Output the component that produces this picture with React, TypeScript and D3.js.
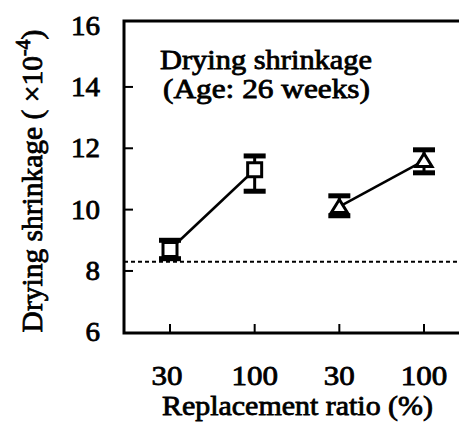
import { useEffect, useRef } from "react";
import * as d3 from "d3";

// x categories (replacement ratio %) for the two groups
const categories = ["30a", "100a", "30b", "100b"];
const tickLabels = ["30", "100", "30", "100"];
const yTicks = [6, 8, 10, 12, 14, 16];

// square series (group 1) and triangle series (group 2)
const squareMean = [8.7, 11.3];
const squareHigh = [9.0, 11.75];
const squareLow = [8.4, 10.6];
const triangleMean = [10.1, 11.6];
const triangleHigh = [10.45, 11.95];
const triangleLow = [9.8, 11.2];

const referenceLine = 8.3;

const App = () => {
  const container = useRef<SVGSVGElement>(null);

  useEffect(() => {
    const svg = d3.select(container.current);
    svg.selectAll("*").remove();

    const width = 459;
    const left = 124, top = 21, bottom = 333;
    const font = "'Liberation Serif', 'Times New Roman', serif";

    const y = d3.scaleLinear().domain([6, 16]).range([332.3, 25.6]);
    const x = d3.scalePoint().domain(categories).range([170, 424]);

    // scanned Times look: regular glyphs, slightly thickened and widened
    const label = (sel: any, size: number, len?: number) => {
      sel.style("font-family", font)
        .style("font-size", size + "px")
        .attr("stroke", "#000")
        .attr("stroke-width", 0.8)
        .attr("fill", "#000");
      if (len) sel.attr("textLength", len).attr("lengthAdjust", "spacingAndGlyphs");
      return sel;
    };

    // frame
    svg.append("path")
      .attr("d", `M${width + 5},${top} H${left} V${bottom} H${width + 5}`)
      .attr("fill", "none")
      .attr("stroke", "#000")
      .attr("stroke-width", 3);

    // y ticks (inward)
    svg.selectAll(".ytick")
      .data(yTicks.slice(1, -1))
      .join("line")
      .attr("x1", left).attr("x2", left + 9)
      .attr("y1", (d) => y(d)).attr("y2", (d) => y(d))
      .attr("stroke", "#000").attr("stroke-width", 2);

    yTicks.forEach((t) => {
      const s = String(t);
      label(svg.append("text")
        .attr("x", 100)
        .attr("y", y(t) + 9)
        .attr("text-anchor", "end")
        .text(s), 27, s.length * 14.5);
    });

    // x ticks (inward)
    svg.selectAll(".xtick")
      .data(categories)
      .join("line")
      .attr("x1", (d) => x(d)!).attr("x2", (d) => x(d)!)
      .attr("y1", bottom).attr("y2", bottom - 9)
      .attr("stroke", "#000").attr("stroke-width", 2);

    categories.forEach((c, i) => {
      const s = tickLabels[i];
      label(svg.append("text")
        .attr("x", x(c)! - (i === 0 ? 3 : 0) - (s.length * 15.5) / 2)
        .attr("y", 385)
        .text(s), 27, s.length * 15.5);
    });

    label(svg.append("text")
      .attr("x", 162).attr("y", 415)
      .text("Replacement ratio (%)"), 27, 271);

    // y axis title
    const yt = svg.append("text")
      .attr("transform", "translate(42,181) rotate(-90)")
      .attr("text-anchor", "middle");
    label(yt, 29.5);
    yt.append("tspan").text("Drying shrinkage ( ×10");
    yt.append("tspan").attr("dy", -12).style("font-size", "20px").text("-4");
    yt.append("tspan").attr("dy", 12).text(")");

    // annotation
    label(svg.append("text")
      .attr("x", 160).attr("y", 69)
      .text("Drying shrinkage"), 27, 212);
    label(svg.append("text")
      .attr("x", 163).attr("y", 98)
      .text("(Age: 26 weeks)"), 27, 207);

    // reference line
    svg.append("line")
      .attr("x1", left).attr("x2", width)
      .attr("y1", y(referenceLine)).attr("y2", y(referenceLine))
      .attr("stroke", "#000").attr("stroke-width", 2)
      .attr("stroke-dasharray", "4,3");

    const drawSeries = (cats: string[], mean: number[], hi: number[], lo: number[], shape: string) => {
      const pts = cats.map((c, i) => ({ c, m: mean[i], h: hi[i], l: lo[i] }));
      svg.append("path")
        .datum(pts)
        .attr("d", d3.line<any>().x((d) => x(d.c)!).y((d) => y(d.m)))
        .attr("fill", "none").attr("stroke", "#000").attr("stroke-width", 2.5);

      const g = svg.selectAll("." + shape)
        .data(pts)
        .join("g");
      g.append("line")
        .attr("x1", (d) => x(d.c)!).attr("x2", (d) => x(d.c)!)
        .attr("y1", (d) => y(d.h)).attr("y2", (d) => y(d.l))
        .attr("stroke", "#000").attr("stroke-width", 3);
      g.append("rect")
        .attr("x", (d) => x(d.c)! - 11).attr("y", (d) => y(d.h) - 2.5)
        .attr("width", 22).attr("height", 5).attr("fill", "#000");
      g.append("rect")
        .attr("x", (d) => x(d.c)! - 11).attr("y", (d) => y(d.l) - 2.5)
        .attr("width", 22).attr("height", 5).attr("fill", "#000");
      if (shape === "square") {
        g.append("rect")
          .attr("x", (d) => x(d.c)! - 7).attr("y", (d) => y(d.m) - 7)
          .attr("width", 14).attr("height", 14)
          .attr("fill", "#fff").attr("stroke", "#000").attr("stroke-width", 3);
      } else {
        g.append("path")
          .attr("d", (d) => {
            const cx = x(d.c)!, cy = y(d.m);
            return `M${cx},${cy - 7} L${cx + 8},${cy + 6} L${cx - 8},${cy + 6} Z`;
          })
          .attr("fill", "#fff").attr("stroke", "#000").attr("stroke-width", 3);
      }
    };

    drawSeries(categories.slice(0, 2), squareMean, squareHigh, squareLow, "square");
    drawSeries(categories.slice(2), triangleMean, triangleHigh, triangleLow, "triangle");
  }, []);

  return (
    <svg
      ref={container}
      width={459}
      height={423}
      style={{ position: "absolute", left: 0, top: 0, background: "#fff" }}
    />
  );
};

export default App;
